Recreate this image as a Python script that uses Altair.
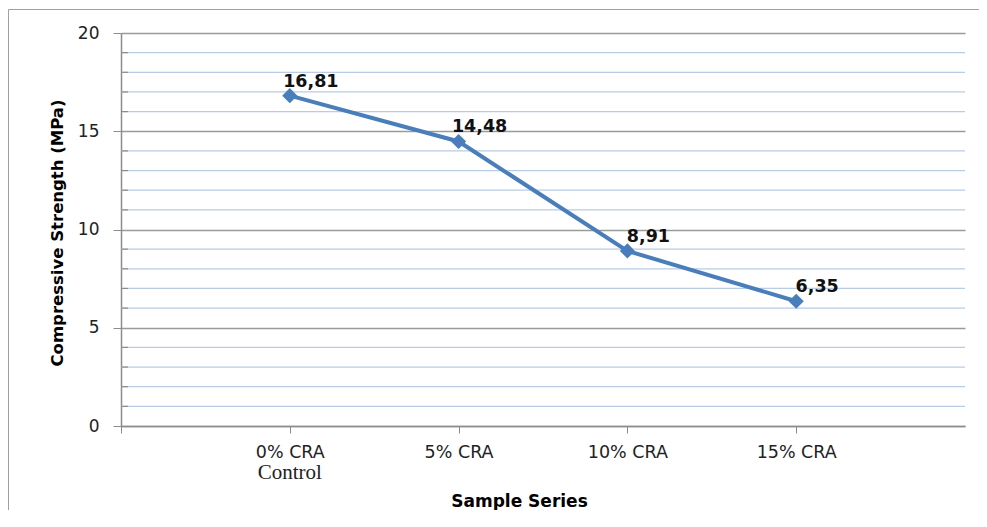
import altair as alt
import pandas as pd

# ---- data ----
categories = ["0% CRA", "5% CRA", "10% CRA", "15% CRA"]
positions = [1, 2, 3, 4]
strength = [16.81, 14.48, 8.91, 6.35]
minor_grid = [v for v in range(1, 20) if v % 5 != 0]
y_major = [0, 5, 10, 15, 20]

df = pd.DataFrame({"pos": positions, "cat": categories, "val": strength})
minor_df = pd.DataFrame({"g": minor_grid})

W, H = 844, 393
BLUE = "#4A7EBB"
GRAY = "#8C8C8C"
FONT = "DejaVu Sans"

label_expr = ("datum.value == 1 ? '0% CRA' : datum.value == 2 ? '5% CRA' : "
              "datum.value == 3 ? '10% CRA' : datum.value == 4 ? '15% CRA' : ''")

x_enc = alt.X(
    "pos:Q",
    scale=alt.Scale(domain=[0, 5], nice=False, zero=False),
    axis=alt.Axis(
        values=[0, 1, 2, 3, 4], labelExpr=label_expr, grid=False,
        domainColor=GRAY, domainWidth=1.5, tickColor=GRAY, tickSize=7,
        labelFont=FONT, labelFontSize=17.5, labelColor="#222", labelPadding=10,
        title="Sample Series", titleFont=FONT, titleFontSize=17,
        titleFontWeight="bold", titleColor="#000",
        titleX=398, titleY=75, titleBaseline="middle", titleAlign="center",
    ),
)
y_enc = alt.Y(
    "val:Q",
    scale=alt.Scale(domain=[0, 20], nice=False),
    axis=alt.Axis(
        values=y_major, grid=True, gridColor="#9A9A9A", gridWidth=1.3,
        domainColor=GRAY, domainWidth=1.5, tickColor=GRAY, tickSize=8,
        labelFont=FONT, labelFontSize=17, labelColor="#222", labelPadding=14,
        title="Compressive Strength (MPa)", titleFont=FONT, titleFontSize=16.5,
        titleFontWeight="bold", titleColor="#000", titleAngle=-90,
        titleX=-64, titleY=H / 2 + 3, titleBaseline="middle", titleAlign="center",
    ),
)

frame_left = alt.Chart(alt.Data(values=[{"a": 1}])).mark_rule(
    color="#A0A0A0", strokeWidth=1
).encode(x=alt.value(-112.5), y=alt.value(-23.5), y2=alt.value(H + 84))
frame_top = alt.Chart(alt.Data(values=[{"a": 1}])).mark_rule(
    color="#A0A0A0", strokeWidth=1
).encode(x=alt.value(-112.5), x2=alt.value(W + 14), y=alt.value(-23.5))

minor_lines = alt.Chart(minor_df).mark_rule(color="#B8CCE4", strokeWidth=1.2).encode(
    y=alt.Y("g:Q", scale=alt.Scale(domain=[0, 20], nice=False)),
    x=alt.value(0), x2=alt.value(W),
)
minor_ticks = alt.Chart(minor_df).mark_rule(color=GRAY, strokeWidth=1.2).encode(
    y=alt.Y("g:Q", scale=alt.Scale(domain=[0, 20], nice=False)),
    x=alt.value(0), x2=alt.value(7),
)

base = alt.Chart(df)
line = base.mark_line(color=BLUE, strokeWidth=4).encode(x=x_enc, y=y_enc)
points = base.mark_point(shape="diamond", filled=True, size=230, color=BLUE, opacity=1).encode(
    x="pos:Q", y="val:Q"
)
labels = base.transform_calculate(
    lab="replace(format(datum.val, '.2f'), '.', ',')"
).mark_text(
    font=FONT, fontSize=17.5, fontWeight="bold", color="#111",
    align="center", baseline="alphabetic", dx=21, dy=-9,
).encode(x="pos:Q", y="val:Q", text="lab:N")

control = alt.Chart(alt.Data(values=[{"pos": 1, "t": "Control"}])).mark_text(
    font="Liberation Serif", fontSize=21, color="#222", align="center",
    baseline="alphabetic",
).encode(x=alt.X("pos:Q"), y=alt.value(H + 53), text="t:N")

chart = alt.layer(frame_left, frame_top, minor_lines, minor_ticks, line, points, labels, control).properties(
    width=W, height=H,
    autosize=alt.AutoSizeParams(type="none"),
    padding={"left": 113, "top": 25, "right": 14, "bottom": 84},
).configure_view(strokeWidth=0)

chart.save("out.html", embed_options={"renderer": "svg", "actions": False})
